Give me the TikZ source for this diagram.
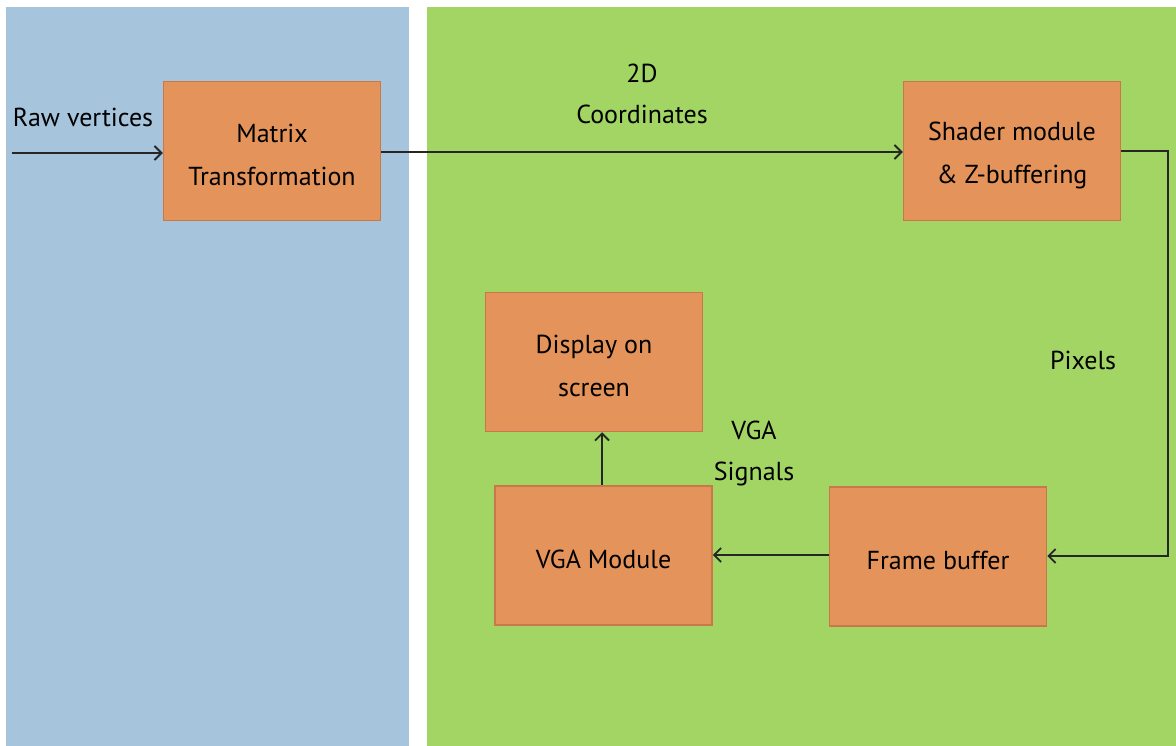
\documentclass[tikz,border=0pt]{standalone}
\usepackage{fontspec}
\setmainfont{PT Sans}
\usetikzlibrary{arrows.meta}
\definecolor{bluebg}{HTML}{A6C4DC}
\definecolor{greenbg}{HTML}{A2D564}
\definecolor{boxfill}{HTML}{E4935A}
\definecolor{boxline}{HTML}{C9784A}
\newcommand{\tup}{\rule{0pt}{27pt}}
\tikzset{
  blk/.style={draw=boxline, line width=1.5pt, fill=boxfill, minimum width=217pt, minimum height=139pt, align=center, font=\fontsize{26}{43}\selectfont, inner sep=0pt},
  lbl/.style={align=center, font=\fontsize{26}{41}\selectfont, inner sep=0pt},
  conn/.style={line width=1.3pt, draw=black!85, -{Straight Barb[length=7pt,width=14pt,line width=1.8pt]}}
}
\begin{document}
\begin{tikzpicture}[x=1pt,y=-1pt]
\useasboundingbox (0,0) rectangle (1176,746);
\fill[white] (0,0) rectangle (1176,746);
\fill[bluebg] (6,7) rectangle (409,746);
\fill[greenbg] (427,7) rectangle (1176,746);

\node[blk] (mat) at (272,151) {\tup Matrix\\Transformation};
\node[blk] (sha) at (1012,151) {\tup Shader module\\\& Z-buffering};
\node[blk] (dis) at (594,362) {\tup Display on\\screen};
\node[blk] (vga) at (603.5,555.5) {\tup VGA Module};
\node[blk] (fra) at (938,556.5) {\tup Frame buffer};

\coordinate (raw) at (12,153);
\coordinate (corner1) at (1168,151);
\coordinate (corner2) at (1168,556);

\draw[conn] (raw) -- (raw -| mat.west);
\draw[conn] (mat.east |- 0,152) -- (sha.west |- 0,152);
\draw[conn] (sha.east |- corner1) -- (corner1) -- (corner2) -- (fra.east |- corner2);
\draw[conn] (fra.west |- 0,555) -- (vga.east |- 0,555);
\draw[conn] (vga.north -| 602,0) -- (dis.south -| 602,0);

\node[lbl] (lraw) at (83,117) {Raw vertices};
\node[lbl] (l2d) at (642,93.5) {2D\\Coordinates};
\node[lbl] (lpix) at (1083,360) {Pixels};
\node[lbl] (lvga) at (754,453.5) {VGA\\Signals};
\end{tikzpicture}
\end{document}
